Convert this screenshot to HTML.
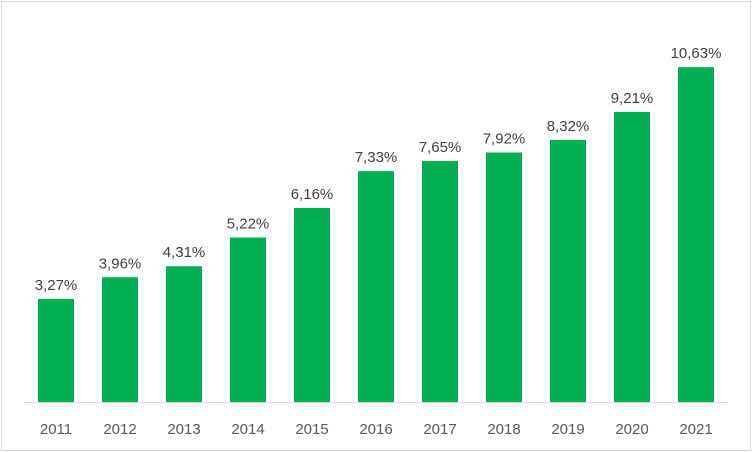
<!DOCTYPE html>
<html><head><meta charset="utf-8"><style>
body{margin:0;background:#fff}
svg{display:block;font-family:"Liberation Sans",Calibri,sans-serif}
</style></head><body>
<svg id="chart" width="752" height="452">
<rect x="1.5" y="1.5" width="749" height="449" fill="#fff" stroke="#d9d9d9" stroke-width="1"/>
<line x1="24" y1="402.5" x2="728" y2="402.5" stroke="#d9d9d9" stroke-width="1"/>
<g id="bars"></g>
</svg>
<script>
const categories=["2011","2012","2013","2014","2015","2016","2017","2018","2019","2020","2021"];
const values=[3.27,3.96,4.31,5.22,6.16,7.33,7.65,7.92,8.32,9.21,10.63];
const valueLabels=["3,27%","3,96%","4,31%","5,22%","6,16%","7,33%","7,65%","7,92%","8,32%","9,21%","10,63%"];
const baseY=402, pxPerUnit=31.5, x0=56, step=64, bw=36;
const xScale=i=>x0+i*step;
const yScale=v=>baseY-v*pxPerUnit;
const g=document.getElementById('bars');
const ns="http://www.w3.org/2000/svg";
categories.forEach((c,i)=>{
  const cx=xScale(i), y=yScale(values[i]);
  const r=document.createElementNS(ns,'rect');
  r.setAttribute('x',cx-bw/2);r.setAttribute('y',y);r.setAttribute('width',bw);r.setAttribute('height',baseY-y);r.setAttribute('fill','#00b050');
  
  
  g.appendChild(r);
  const t=document.createElementNS(ns,'text');
  t.setAttribute('x',cx);t.setAttribute('y',y-9);t.setAttribute('text-anchor','middle');t.setAttribute('font-size','15');t.setAttribute('fill','#404040');
  t.textContent=valueLabels[i];
  
  
  g.appendChild(t);
  const l=document.createElementNS(ns,'text');
  l.setAttribute('x',cx);l.setAttribute('y',434);l.setAttribute('text-anchor','middle');l.setAttribute('font-size','15');l.setAttribute('fill','#595959');
  l.textContent=c;
  
  
  g.appendChild(l);
});
</script>
</body></html>
